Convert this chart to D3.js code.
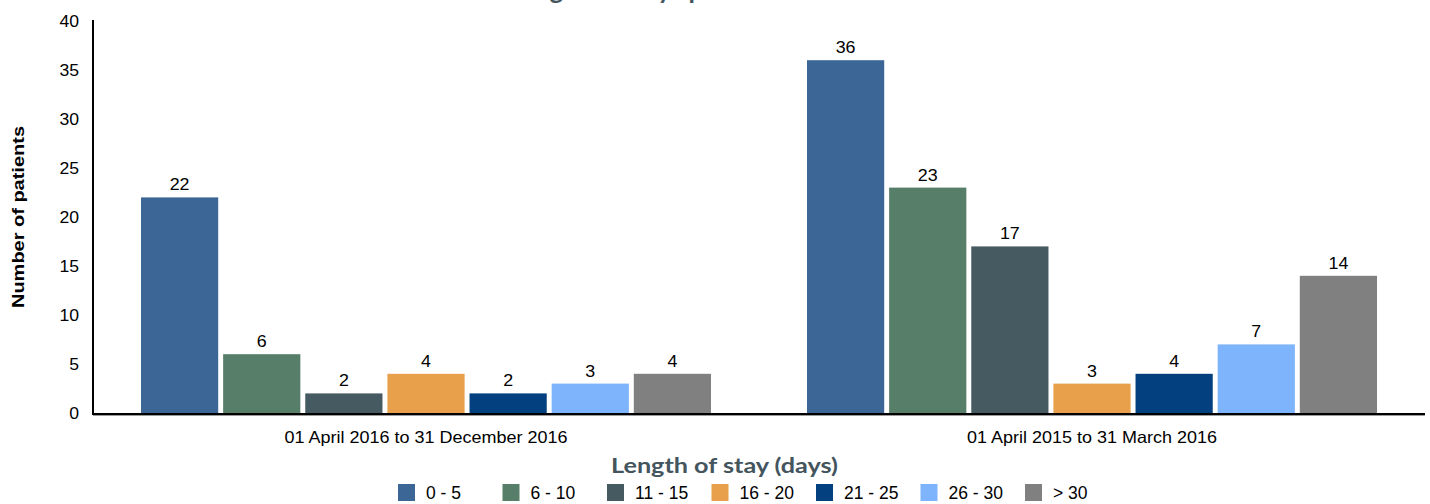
<!DOCTYPE html>
<html>
<head>
<meta charset="utf-8">
<script src="https://cdn.jsdelivr.net/npm/d3@7"></script>
<style>
  html, body { margin: 0; padding: 0; background: #ffffff; }
  svg { display: block; }
</style>
</head>
<body>
<svg id="chart" width="1430" height="504"></svg>
<script>
// Length of stay, number of patients per band, for two reporting periods
const periods = ["01 April 2016 to 31 December 2016", "01 April 2015 to 31 March 2016"];
const stayBands = ["0 - 5", "6 - 10", "11 - 15", "16 - 20", "21 - 25", "26 - 30", "> 30"];
const patients2016 = [22, 6, 2, 4, 2, 3, 4];
const patients2015 = [36, 23, 17, 3, 4, 7, 14];
const yTicks = [0, 5, 10, 15, 20, 25, 30, 35, 40];
const bandColors = ["#3b6696", "#577e68", "#465a62", "#e8a04a", "#02407f", "#7eb4fc", "#808080"];

const seriesByPeriod = [patients2016, patients2015];

const svg = d3.select("#chart");
const plot = { left: 93, right: 1425, top: 21, bottom: 413 };

const x0 = d3.scaleBand().domain(periods).range([plot.left, plot.right]).padding(0);
const x1 = d3.scaleBand().domain(stayBands)
  .range([48, x0.bandwidth() - 48]).paddingInner(0.06).paddingOuter(0);
const y = d3.scaleLinear().domain([0, 40]).range([plot.bottom, plot.top]);
const color = d3.scaleOrdinal().domain(stayBands).range(bandColors);

// widen text horizontally by a factor
function stretch(sel, factor) {
  sel.each(function () {
    const len = this.getComputedTextLength();
    d3.select(this).attr("textLength", len * factor).attr("lengthAdjust", "spacingAndGlyphs");
  });
}

// Chart title, running off the top edge of the canvas
svg.append("text")
  .attr("x", 508).attr("y", -1.5)
  .attr("font-family", "Lato, 'Open Sans', sans-serif")
  .attr("font-weight", 700).attr("font-size", 26)
  .attr("fill", "#44555e")
  .text("Length of stay/ period");

// Bars
const groups = svg.append("g").selectAll("g")
  .data(periods)
  .join("g")
  .attr("transform", d => `translate(${x0(d)},0)`);

groups.selectAll("rect")
  .data((p, i) => stayBands.map((b, j) => ({ band: b, value: seriesByPeriod[i][j] })))
  .join("rect")
  .attr("x", d => x1(d.band))
  .attr("width", x1.bandwidth())
  .attr("y", d => y(d.value))
  .attr("height", d => y(0) - y(d.value))
  .attr("fill", d => color(d.band));

// Value labels
const valueLabels = groups.selectAll("text.value")
  .data((p, i) => stayBands.map((b, j) => ({ band: b, value: seriesByPeriod[i][j] })))
  .join("text")
  .attr("class", "value")
  .attr("x", d => x1(d.band) + x1.bandwidth() / 2)
  .attr("y", d => y(d.value) - 7)
  .attr("text-anchor", "middle")
  .attr("font-family", "Arial, 'Liberation Sans', sans-serif")
  .attr("font-size", 17)
  .attr("fill", "#000")
  .text(d => d.value);
stretch(valueLabels, 1.05);

// Y axis
const yAxis = svg.append("g")
  .attr("transform", `translate(${plot.left},0)`)
  .call(d3.axisLeft(y).tickValues(yTicks).tickSize(0).tickPadding(14));
yAxis.select(".domain").remove();
yAxis.selectAll("text")
  .attr("font-family", "Arial, 'Liberation Sans', sans-serif")
  .attr("font-size", 16).attr("fill", "#000");
stretch(yAxis.selectAll("text"), 1.1);

svg.append("line")
  .attr("x1", plot.left).attr("x2", plot.left)
  .attr("y1", 20).attr("y2", plot.bottom + 1)
  .attr("stroke", "#000").attr("stroke-width", 2);

// X axis baseline with a soft shadow
svg.append("line")
  .attr("x1", plot.left).attr("x2", plot.right)
  .attr("y1", plot.bottom + 2.5).attr("y2", plot.bottom + 2.5)
  .attr("stroke", "#9a9a9a").attr("stroke-width", 1);
svg.append("line")
  .attr("x1", plot.left - 1).attr("x2", plot.right)
  .attr("y1", plot.bottom + 1).attr("y2", plot.bottom + 1)
  .attr("stroke", "#000").attr("stroke-width", 2);

// Period labels
const xAxis = svg.append("g")
  .attr("transform", `translate(0,${plot.bottom})`)
  .call(d3.axisBottom(x0).tickSize(0).tickPadding(18));
xAxis.select(".domain").remove();
xAxis.selectAll("text")
  .attr("font-family", "Arial, 'Liberation Sans', sans-serif")
  .attr("font-size", 16.5).attr("fill", "#000");
stretch(xAxis.selectAll("text"), 1.09);

// Y axis title
const yTitle = svg.append("text")
  .attr("transform", `translate(24,${(plot.top + plot.bottom) / 2}) rotate(-90)`)
  .attr("text-anchor", "middle")
  .attr("font-family", "Arial, 'Liberation Sans', sans-serif")
  .attr("font-weight", 700).attr("font-size", 16)
  .attr("fill", "#000")
  .text("Number of patients");
yTitle.attr("textLength", 182).attr("lengthAdjust", "spacingAndGlyphs");

// X axis title
svg.append("text")
  .attr("x", 724.5).attr("y", 473)
  .attr("text-anchor", "middle")
  .attr("font-family", "Lato, 'Open Sans', sans-serif")
  .attr("font-weight", 700).attr("font-size", 21)
  .attr("fill", "#44555e")
  .attr("textLength", 227).attr("lengthAdjust", "spacingAndGlyphs")
  .text("Length of stay (days)");

// Legend
const legendX = d3.scalePoint().domain(stayBands).range([398, 1025]);
const legend = svg.append("g").selectAll("g")
  .data(stayBands)
  .join("g")
  .attr("transform", d => `translate(${legendX(d)},484)`);
legend.append("rect")
  .attr("width", 17).attr("height", 17)
  .attr("fill", d => color(d));
legend.append("text")
  .attr("x", 28).attr("y", 15)
  .attr("font-family", "Arial, 'Liberation Sans', sans-serif")
  .attr("font-size", 17.5).attr("fill", "#000")
  .text(d => d);
</script>
</body>
</html>
